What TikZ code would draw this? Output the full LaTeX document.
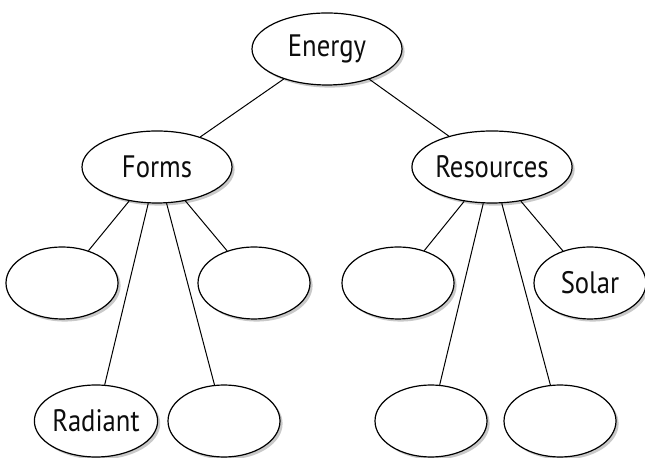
\documentclass[tikz,border=0pt]{standalone}
\usepackage{fontspec}
\setmainfont{PT Sans}[FakeStretch=0.86]
\usepackage{xcolor}
\usepackage{tikz}
\usetikzlibrary{shapes.geometric,shadows}

\begin{document}
\begin{tikzpicture}[x=50pt, y=50pt,
        topic/.style={draw, ellipse, line width=0.6pt, fill=white, inner sep=0pt,
            minimum width=75pt, minimum height=36pt,
            font=\fontsize{15.5}{18}\selectfont, text=black!95,
            drop shadow={shadow xshift=1.3pt, shadow yshift=-1.3pt, fill=black!30, opacity=0.7}},
        leaf/.style={topic, minimum width=56pt},
        link/.style={line width=0.5pt}]
        \useasboundingbox (0, 0) rectangle (6.45, 4.58);

        % Root
        \node[topic] (energy) at (3.27, 4.09) {Energy};

        % Branches
        \node[topic] (forms) at (1.57, 2.91) {Forms};
        \node[topic] (resources) at (4.92, 2.91) {Resources};

        % Forms of energy
        \node[leaf] (f1) at (0.62, 1.75) {};
        \node[leaf] (f4) at (2.54, 1.75) {};
        \node[leaf] (radiant) at (0.96, 0.37) {Radiant};
        \node[leaf] (f3) at (2.24, 0.37) {};

        % Energy resources
        \node[leaf] (r1) at (3.98, 1.75) {};
        \node[leaf] (solar) at (5.90, 1.75) {Solar};
        \node[leaf] (r2) at (4.31, 0.37) {};
        \node[leaf] (r3) at (5.60, 0.37) {};

        % Connections
        \draw[link] (energy) -- (forms);
        \draw[link] (energy) -- (resources);

        \draw[link] (forms) -- (f1);
        \draw[link] (forms) -- (radiant);
        \draw[link] (forms) -- (f3);
        \draw[link] (forms) -- (f4);

        \draw[link] (resources) -- (r1);
        \draw[link] (resources) -- (r2);
        \draw[link] (resources) -- (r3);
        \draw[link] (resources) -- (solar);
    \end{tikzpicture}
\end{document}
